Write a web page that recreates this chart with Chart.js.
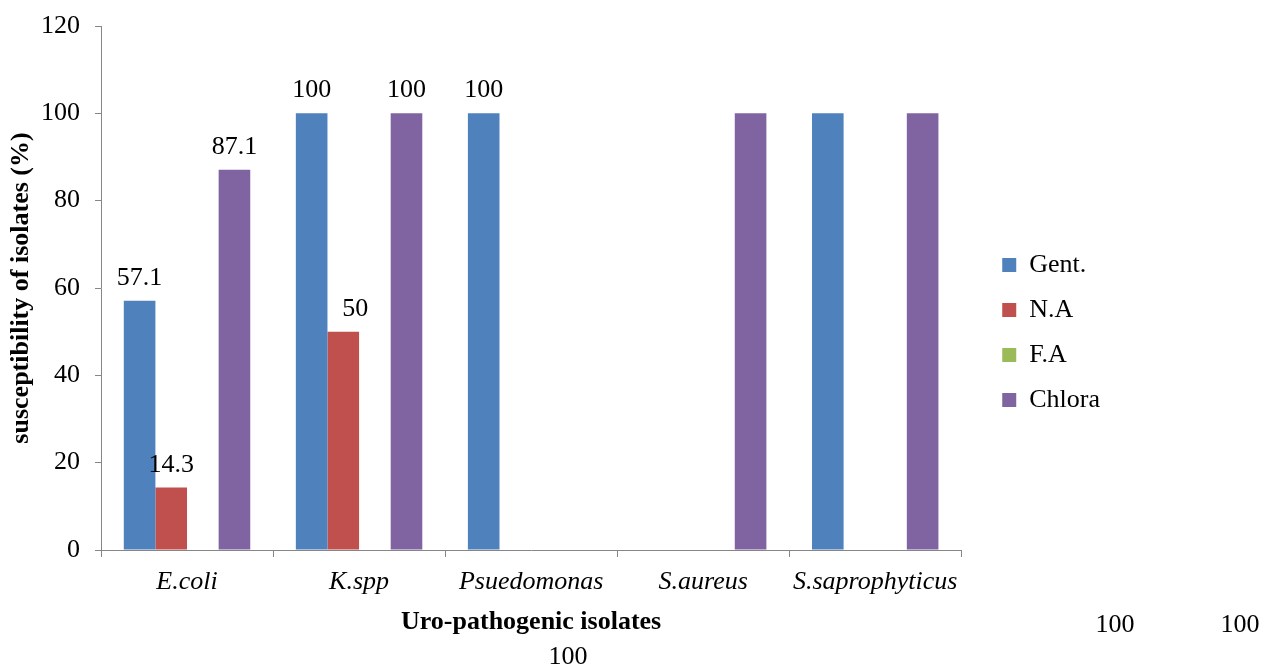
<!DOCTYPE html>
<html>
<head>
<meta charset="utf-8">
<script src="https://cdn.jsdelivr.net/npm/chart.js@4"></script>
<style>
  html, body { margin: 0; padding: 0; background: #ffffff; }
  #wrap { width: 1270px; height: 669px; position: relative; }
</style>
</head>
<body>
<div id="wrap"><canvas id="c" width="1270" height="669"></canvas></div>
<script>
// ---- data ----
const categories = ['E.coli', 'K.spp', 'Psuedomonas', 'S.aureus', 'S.saprophyticus'];
const seriesNames = ['Gent.', 'N.A', 'F.A', 'Chlora'];
const gent   = [57.1, 100, 100, 0, 100];
const na     = [14.3, 50, 0, 0, 0];
const fa     = [0, 0, 0, 0, 0];
const chlora = [87.1, 100, 0, 100, 100];
const yTicks = [0, 20, 40, 60, 80, 100, 120];
// value labels that were printed away from their bars: [series index, category index]
const displacedLabels = [[3, 3], [0, 4], [3, 4]];

const colors = ['#4F81BD', '#C0504D', '#9BBB59', '#8064A2'];
const FONT = 'Liberation Serif';

const valuePlugin = {
  id: 'valueLabels',
  afterDatasetsDraw(chart, args, opts) {
    const ctx = chart.ctx;
    ctx.save();
    ctx.font = '26px "' + FONT + '"';
    ctx.fillStyle = '#000';
    ctx.textAlign = 'center';
    ctx.textBaseline = 'alphabetic';
    chart.data.datasets.forEach((ds, di) => {
      const meta = chart.getDatasetMeta(di);
      meta.data.forEach((bar, i) => {
        const v = ds.data[i];
        if (!v) return;
        if (displacedLabels.some(p => p[0] === di && p[1] === i)) return;
        const dx = (di === 1 && i === 1) ? 12 : 0;
        ctx.fillText(String(v), bar.x + dx, bar.y - 16);
      });
    });
    // displaced labels, drawn where the original put them
    ctx.textBaseline = 'middle';
    displacedLabels.forEach((p, k) => {
      const v = chart.data.datasets[p[0]].data[p[1]];
      const pos = opts.strayPositions[k];
      ctx.fillText(String(v), pos[0], pos[1]);
    });
    ctx.restore();
  }
};

const datasets = [gent, na, fa, chlora].map((d, k) => ({
  label: seriesNames[k],
  data: d,
  backgroundColor: colors[k],
  borderWidth: 0,
  categoryPercentage: 0.735,
  barPercentage: 1.0
}));

new Chart(document.getElementById('c'), {
  type: 'bar',
  data: { labels: categories, datasets },
  options: {
    responsive: false,
    animation: false,
    devicePixelRatio: 1,
    layout: { padding: { top: 6, right: 160, bottom: 10, left: 0 } },
    plugins: {
      legend: {
        position: 'right',
        align: 'center',
        labels: {
          boxWidth: 14,
          boxHeight: 14,
          padding: 19,
          color: '#000',
          font: { family: FONT, size: 26 }
        }
      },
      tooltip: { enabled: false },
      valueLabels: { strayPositions: [[1115, 625], [1240, 625], [568, 657]] }
    },
    scales: {
      y: {
        min: 0,
        max: 120,
        afterBuildTicks: (axis) => { axis.ticks = yTicks.map(v => ({ value: v })); },
        afterFit: (s) => { s.width = 101; s.paddingTop = 26; },
        border: { display: true, color: '#868686', width: 1 },
        grid: { display: true, drawOnChartArea: false, drawTicks: true, tickLength: 6, color: '#868686' },
        ticks: { color: '#000', padding: 15, font: { family: FONT, size: 26 } },
        title: {
          display: true,
          text: 'susceptibility of isolates (%)',
          color: '#000',
          font: { family: FONT, size: 26, weight: 'bold' },
          padding: { top: 6, bottom: 0 }
        }
      },
      yRight: {
        type: 'linear',
        position: 'right',
        display: true,
        grid: { display: false },
        border: { display: false },
        ticks: { display: false },
        afterFit: (s) => { s.width = 22; s.paddingTop = 0; }
      },
      x: {
        afterFit: (s) => { s.height = 109; },
        border: { display: true, color: '#868686', width: 1 },
        grid: { display: true, offset: true, drawOnChartArea: false, drawTicks: true, tickLength: 7, color: '#868686' },
        ticks: { color: '#000', padding: 10, font: { family: FONT, size: 26, style: 'italic' } },
        title: {
          display: true,
          text: 'Uro-pathogenic isolates',
          color: '#000',
          font: { family: FONT, size: 26, weight: 'bold' },
          padding: { top: 0, bottom: 21 }
        }
      }
    }
  },
  plugins: [valuePlugin]
});
</script>
</body>
</html>
